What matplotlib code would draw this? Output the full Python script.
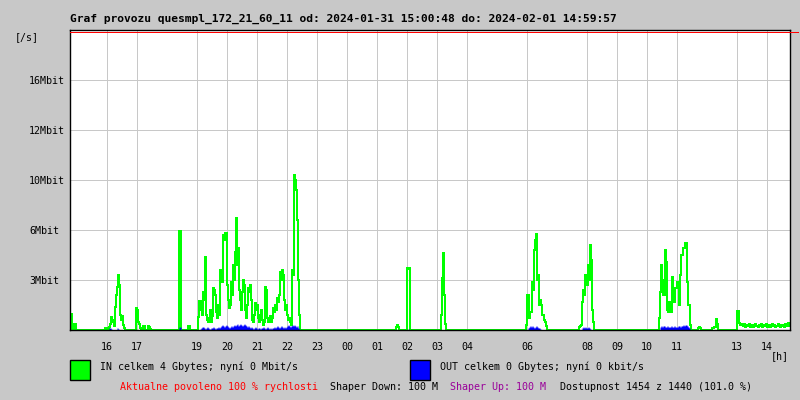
import numpy as np
import pandas as pd
import matplotlib
matplotlib.use("Agg")
import matplotlib.pyplot as plt
from matplotlib.lines import Line2D
from matplotlib.patches import Rectangle

plt.rcParams['font.family'] = ['DejaVu Sans Mono']

# ---------------- data (Mbit/s, 2-minute samples) ----------------
t_start = "2024-01-31 14:46"
t_end = "2024-02-01 14:46"

in_a_start = "2024-01-31 14:46"
in_a = [1.02, 1.02, 0, 0, 0.38, 0.38]
in_b_start = "2024-01-31 15:56"
in_b = [0.13, 0.13, 0, 0, 0.19, 0.38, 0.83, 0.64, 0.51, 0.26, 1.47, 2.24, 2.75, 3.52,
        2.88, 0.96, 0.64, 0.9, 0.32, 0.13]
in_c_start = "2024-01-31 16:58"
in_c = [1.41, 1.28, 0.51, 0.38, 0.13, 0, 0, 0.26, 0.26, 0, 0, 0, 0.26, 0.19, 0.06]
in_d_start = "2024-01-31 18:24"
in_d = [6.34, 6.34]
in_d2_start = "2024-01-31 18:42"
in_d2 = [0.26, 0.26]
in_e_start = "2024-01-31 19:02"
in_e = [0.83, 1.86, 1.86, 1.28, 0.96, 2.43, 1.92, 4.67, 0.96, 0.64,
        0.51, 0.77, 1.28, 0.51, 0.9, 2.69, 2.56, 2.24, 1.15, 0.77,
        1.6, 0.96, 3.84, 3.2, 3.07, 6.08, 5.76, 6.21, 6.21, 2.88,
        1.92, 1.41, 1.6, 3.07, 2.24, 4.16, 3.2, 4.99, 7.17, 4.16,
        5.25, 2.56, 1.92, 1.28, 2.43, 3.2, 2.88, 1.28, 0.77, 1.6,
        2.69, 2.43, 2.88, 1.92, 0.64, 0.51, 0.96, 1.73, 1.28, 1.6,
        0.77, 0.51, 0.96, 1.28, 0.64, 0.32, 0.51, 2.75, 2.56, 0.77,
        0.51, 0.64, 0.9, 0.51, 0.77, 1.41, 1.15, 1.6, 1.28, 2.05,
        1.79, 2.24, 3.71, 3.2, 3.84, 3.52, 1.92, 1.28, 1.6, 0.96,
        0.64, 0.77, 0.51, 0.32, 3.84, 3.52, 9.92, 9.6, 8.96, 7.04,
        3.2, 0.96]
in_f_start = "2024-02-01 01:38"
in_f = [0.19, 0.32, 0.19]
in_g_start = "2024-02-01 02:00"
in_g = [3.97, 3.9, 3.97]
in_h_start = "2024-02-01 03:08"
in_h = [0.96, 3.33, 4.93, 2.24, 0.38]
in_i_start = "2024-02-01 05:58"
in_i = [0.32, 2.24, 2.24, 0.77, 1.15, 1.15, 3.07, 2.56, 5.12, 5.76, 6.14, 3.2, 3.52,
        1.6, 1.92, 1.6, 0.96, 0.96, 0.64, 0.51, 0.26]
in_j_start = "2024-02-01 07:44"
in_j = [0.19, 0.26, 0.32, 1.79, 2.56, 2.24, 3.52, 3.2, 2.88, 4.16, 3.2, 5.44, 4.48,
        1.28, 0.51]
in_k_start = "2024-02-01 10:24"
in_k = [0.77, 2.43, 4.16, 3.2, 2.24, 2.24, 5.12, 4.35, 1.28, 1.15, 1.79, 1.79, 1.15,
        3.39, 1.79, 1.79, 2.69, 2.69, 3.07, 3.07, 1.6, 3.52, 4.8, 4.8, 5.25, 5.25,
        5.57, 5.57, 3.07, 1.6, 1.6, 0.32]
in_l1_start = "2024-02-01 11:42"
in_l1 = [0.13, 0.19, 0.13]
in_l2_start = "2024-02-01 12:10"
in_l2 = [0.13, 0.13, 0.19, 0.19, 0.7, 0.38]
in_m_start = "2024-02-01 13:00"
in_m = [1.22, 1.22, 0.45, 0.32, 0.38, 0.32,
        0.26, 0.38, 0.19, 0.32, 0.26, 0.26, 0.38, 0.19, 0.32, 0.26, 0.19, 0.32,
        0.38, 0.26, 0.26, 0.19, 0.32, 0.26, 0.38, 0.19, 0.26, 0.32, 0.26, 0.38,
        0.19, 0.26, 0.32, 0.19, 0.26, 0.38, 0.26, 0.32, 0.19, 0.26, 0.26, 0.38,
        0.32, 0.19, 0.26, 0.32, 0.26, 0.19, 0.38, 0.26, 0.32, 0.45, 0.26, 0.38]

out_b_start = "2024-01-31 16:04"
out_b = [0.13, 0.13, 0.06, 0, 0, 0, 0, 0, 0.13, 0.06]
out_d_start = "2024-01-31 18:24"
out_d = [0.19, 0.19]
out_e_start = "2024-01-31 19:06"
out_e = [0.06, 0.13, 0.19, 0.19, 0.13, 0.06, 0.13, 0.19, 0.13, 0.06,
         0.06, 0.13, 0.13, 0.19, 0.13, 0.06, 0.13, 0.13, 0.19, 0.13,
         0.19, 0.26, 0.32, 0.26, 0.19, 0.26, 0.32, 0.26, 0.19, 0.13,
         0.19, 0.26, 0.19, 0.26, 0.32, 0.26, 0.32, 0.38, 0.26, 0.32,
         0.38, 0.32, 0.26, 0.32, 0.38, 0.32, 0.26, 0.19, 0.26, 0.19,
         0.13, 0.19, 0.13, 0.06, 0.13, 0.19, 0.13, 0.06, 0.13, 0.13,
         0.06, 0.13, 0.13, 0.19, 0.13, 0.06, 0.13, 0.19, 0.13, 0.06,
         0.13, 0.06, 0.13, 0.13, 0.19, 0.13, 0.19, 0.26, 0.19, 0.13,
         0.19, 0.26, 0.19, 0.13, 0.19, 0.13, 0.19, 0.26, 0.32, 0.26,
         0.19, 0.26, 0.32, 0.26, 0.32, 0.26, 0.19, 0.26, 0.13, 0.06]
out_g_start = "2024-02-01 02:02"
out_g = [0.06]
out_i_start = "2024-02-01 06:02"
out_i = [0.13, 0.19, 0.26, 0.19, 0.26, 0.19, 0.13, 0.19, 0.26, 0.19, 0.13, 0.13, 0.06]
out_j_start = "2024-02-01 07:50"
out_j = [0.13, 0.19, 0.13, 0.19, 0.13, 0.13, 0.19, 0.13, 0.06]
out_k_start = "2024-02-01 10:26"
out_k = [0.19, 0.26, 0.19, 0.26, 0.26, 0.19, 0.19, 0.26, 0.19, 0.19, 0.19, 0.26, 0.19,
         0.19, 0.26, 0.19, 0.19, 0.19, 0.26, 0.26, 0.19, 0.26, 0.26, 0.32, 0.26, 0.32,
         0.32, 0.26, 0.19, 0.13]

in_bursts = [(in_a_start, in_a), (in_b_start, in_b), (in_c_start, in_c),
             (in_d_start, in_d), (in_d2_start, in_d2), (in_e_start, in_e),
             (in_f_start, in_f), (in_g_start, in_g), (in_h_start, in_h),
             (in_i_start, in_i), (in_j_start, in_j), (in_k_start, in_k),
             (in_l1_start, in_l1), (in_l2_start, in_l2), (in_m_start, in_m)]
out_bursts = [(out_b_start, out_b), (out_d_start, out_d), (out_e_start, out_e),
              (out_g_start, out_g), (out_i_start, out_i), (out_j_start, out_j),
              (out_k_start, out_k)]

tick_times = ["2024-01-31 16:00", "2024-01-31 17:00", "2024-01-31 19:00",
              "2024-01-31 20:00", "2024-01-31 21:00", "2024-01-31 22:00",
              "2024-01-31 23:00", "2024-02-01 00:00", "2024-02-01 01:00",
              "2024-02-01 02:00", "2024-02-01 03:00", "2024-02-01 04:00",
              "2024-02-01 06:00", "2024-02-01 08:00", "2024-02-01 09:00",
              "2024-02-01 10:00", "2024-02-01 11:00", "2024-02-01 13:00",
              "2024-02-01 14:00"]
tick_labels = ["16", "17", "19", "20", "21", "22", "23", "00", "01", "02", "03",
               "04", "06", "08", "09", "10", "11", "13", "14"]
y_ticks = [3.2, 6.4, 9.6, 12.8, 16.0]
y_labels = ["3Mbit", "6Mbit", "10Mbit", "12Mbit", "16Mbit"]
y_max = 19.2

title = "Graf provozu quesmpl_172_21_60_11 od: 2024-01-31 15:00:48 do: 2024-02-01 14:59:57"
legend_in = "IN celkem 4 Gbytes; nyní 0 Mbit/s"
legend_out = "OUT celkem 0 Gbytes; nyní 0 kbit/s"

# ---------------- build series ----------------
t0 = pd.Timestamp(t_start)
step = pd.Timedelta(minutes=2)
times = pd.date_range(t0, pd.Timestamp(t_end), freq="2min")


def series(bursts):
    v = np.zeros(len(times))
    for start, vals in bursts:
        i = int((pd.Timestamp(start) - t0) / step)
        v[i:i + len(vals)] = vals
    return v


in_vals = series(in_bursts)
out_vals = series(out_bursts)

# ---------------- figure ----------------
W, H = 800, 400
BG = "#c8c8c8"
fig = plt.figure(figsize=(8, 4), dpi=100, facecolor=BG)
ax = fig.add_axes([70 / W, 1 - 330 / H, 720 / W, 300 / H])
ax.set_facecolor("white")

ax.plot(times, in_vals, drawstyle="steps-post", color="#00ff00", lw=0.5,
        antialiased=False, zorder=2)
ax.fill_between(times, out_vals, step="post", color="#0000ff", lw=0,
                antialiased=False, zorder=2.2)

ax.set_xlim(t0, pd.Timestamp(t_end))
ax.set_ylim(0, y_max)

ax.set_xticks(pd.to_datetime(tick_times))
ax.set_xticklabels(tick_labels, fontsize=7.2)
ax.set_yticks(y_ticks)
ax.set_yticklabels(y_labels, fontsize=7.2, ha="left")
ax.tick_params(axis="x", length=0, pad=8.5)
ax.tick_params(axis="y", length=0, pad=29.5)
ax.grid(True, color="#c8c8c8", lw=0.72, zorder=1)
ax.set_axisbelow(True)
for s in ax.spines.values():
    s.set_color("black")
    s.set_linewidth(1.0)
    s.set_zorder(3)

# red line at top
fig.add_artist(Line2D([70 / W, 798 / W], [1 - 31.5 / H, 1 - 31.5 / H],
                      transform=fig.transFigure, color="red", lw=0.72))

fs = 7.2
fig.text(70 / W, 1 - 19 / H, title, fontsize=8.1, fontweight="bold",
         ha="left", va="center")
fig.text(15 / W, 1 - 37 / H, "[/s]", fontsize=fs, ha="left", va="center")
fig.text(771 / W, 1 - 356 / H, "[h]", fontsize=fs, ha="left", va="center")

fig.add_artist(Rectangle((70 / W, 1 - 380 / H), 20 / W, 20 / H, transform=fig.transFigure,
                         facecolor="#00ff00", edgecolor="black", lw=1))
fig.add_artist(Rectangle((410 / W, 1 - 380 / H), 20 / W, 20 / H, transform=fig.transFigure,
                         facecolor="#0000ff", edgecolor="black", lw=1))
fig.text(100 / W, 1 - 367 / H, legend_in, fontsize=fs, ha="left", va="center")
fig.text(440 / W, 1 - 367 / H, legend_out, fontsize=fs, ha="left", va="center")

fig.text(120 / W, 1 - 387 / H, "Aktualne povoleno 100 % rychlosti", fontsize=fs,
         color="red", ha="left", va="center")
fig.text(330 / W, 1 - 387 / H, "Shaper Down: 100 M", fontsize=fs,
         color="black", ha="left", va="center")
fig.text(450 / W, 1 - 387 / H, "Shaper Up: 100 M", fontsize=fs,
         color="#990099", ha="left", va="center")
fig.text(560 / W, 1 - 387 / H, "Dostupnost 1454 z 1440 (101.0 %)", fontsize=fs,
         color="black", ha="left", va="center")

fig.savefig("out.png", dpi=100, facecolor=BG)
